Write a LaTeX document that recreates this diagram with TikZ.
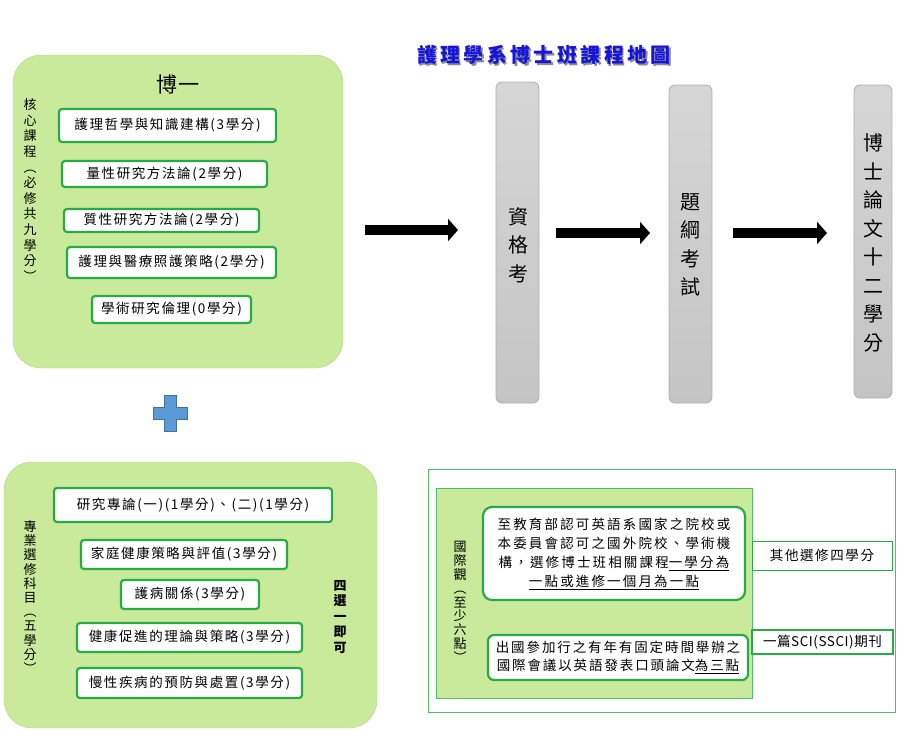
\documentclass[tikz,border=0pt]{standalone}
\usepackage{fontspec}
\setmainfont{Noto Sans CJK TC}
\usetikzlibrary{arrows.meta}
\definecolor{panelgreen}{RGB}{201,234,154}
\definecolor{boxgreen}{RGB}{40,170,70}
\definecolor{outergreen}{RGB}{80,190,110}
\definecolor{titleblue}{RGB}{20,20,220}
\definecolor{bartop}{RGB}{214,214,214}
\definecolor{barbot}{RGB}{196,196,196}
\definecolor{barline}{RGB}{175,175,175}
\definecolor{plusfill}{RGB}{91,155,213}
\definecolor{plusline}{RGB}{65,113,156}
\tikzset{
  panel/.style={fill=panelgreen, draw=panelgreen!90!black, line width=0.4pt, rounded corners=28pt, inner sep=0pt},
  tbox/.style={draw=boxgreen, line width=2.2pt, fill=white, rounded corners=3pt, inner sep=0pt,
    font=\fontsize{13.5}{16}\selectfont\addfontfeature{LetterSpace=12}},
  bar/.style={draw=barline, line width=0.8pt, top color=bartop, bottom color=barbot, rounded corners=6pt, inner sep=0pt},
  bartext/.style={align=center, inner sep=0pt, font=\fontsize{20}{28.5}\selectfont},
  vlabel/.style={align=center, inner sep=0pt, font=\fontsize{13}{15.5}\selectfont},
  blockarrow/.style={line width=10pt, -{Triangle[length=10pt,width=22pt]}},
}
\begin{document}
\begin{tikzpicture}[x=1pt,y=-1pt]
\useasboundingbox (0,0) rectangle (900,731);
% title
\node[inner sep=0pt, text=black!45, font=\fontsize{20}{24}\selectfont\bfseries\addfontfeature{LetterSpace=17}] (titleshadow) at (545.5,56.5) {護理學系博士班課程地圖};
\node[inner sep=0pt, text=titleblue, font=\fontsize{20}{24}\selectfont\bfseries\addfontfeature{LetterSpace=17}] (title) at (544,55) {護理學系博士班課程地圖};

% core panel
\node[panel, minimum width=330pt, minimum height=313pt] (core) at (178,211.5) {};
\node[inner sep=0pt, font=\fontsize{21}{24}\selectfont\addfontfeature{LetterSpace=5}] (bo1) at (178,85) {博一};
\node[vlabel, font=\fontsize{13}{15.6}\selectfont] (corelab) at (30,190) {核\\心\\課\\程\\︵\\必\\修\\共\\九\\學\\分\\︶};
\node[tbox, minimum width=217pt, minimum height=33pt] (c1) at (167.5,125.5) {護理哲學與知識建構(3學分)};
\node[tbox, minimum width=205pt, minimum height=26pt] (c2) at (164.5,174) {量性研究方法論(2學分)};
\node[tbox, minimum width=195pt, minimum height=23pt] (c3) at (161.5,220.5) {質性研究方法論(2學分)};
\node[tbox, minimum width=209pt, minimum height=31pt] (c4) at (171.5,262.5) {護理與醫療照護策略(2學分)};
\node[tbox, minimum width=159pt, minimum height=27pt] (c5) at (171.5,309.5) {學術研究倫理(0學分)};

% plus sign
\draw[fill=plusfill, draw=plusline, line width=0.8pt]
  (164,395) -- (176,395) -- (176,407) -- (187,407) -- (187,419) -- (176,419) -- (176,431)
  -- (164,431) -- (164,419) -- (153,419) -- (153,407) -- (164,407) -- cycle;

% bars
\node[bar, minimum width=43pt, minimum height=321pt] (bar1) at (517.5,242.5) {};
\node[bartext] (bar1t) at (518,245) {資\\格\\考};
\node[bar, minimum width=43pt, minimum height=318pt] (bar2) at (690.5,244) {};
\node[bartext] (bar2t) at (690.5,245) {題\\綱\\考\\試};
\node[bar, minimum width=38pt, minimum height=313pt] (bar3) at (873,241.5) {};
\node[bartext] (bar3t) at (873,243) {博\\士\\論\\文\\十\\二\\學\\分};

% block arrows
\coordinate (a1s) at (365,230);
\coordinate (a1e) at (458,230);
\coordinate (a2s) at (556,233);
\coordinate (a2e) at (650,233);
\coordinate (a3s) at (733,233);
\coordinate (a3e) at (827,233);
\draw[blockarrow] (a1s) -- (a1e);
\draw[blockarrow] (a2s) -- (a2e);
\draw[blockarrow] (a3s) -- (a3e);

% elective panel
\node[panel, minimum width=373pt, minimum height=266pt] (elec) at (190.5,595) {};
\node[vlabel, font=\fontsize{13}{14.2}\selectfont] (eleclab) at (30,597) {專\\業\\選\\修\\科\\目\\︵\\五\\學\\分\\︶};
\node[vlabel, font=\fontsize{13}{15.5}\selectfont\bfseries] (choose) at (340,617) {四\\選\\一\\即\\可};
\node[tbox, minimum width=278pt, minimum height=34pt] (e1) at (193,505) {研究專論(一)(1學分)、(二)(1學分)};
\node[tbox, minimum width=206pt, minimum height=29pt] (e2) at (184,554.5) {家庭健康策略與評值(3學分)};
\node[tbox, minimum width=138pt, minimum height=29pt] (e3) at (190,594.5) {護病關係(3學分)};
\node[tbox, minimum width=225pt, minimum height=29pt] (e4) at (189.5,637.5) {健康促進的理論與策略(3學分)};
\node[tbox, minimum width=225pt, minimum height=30pt] (e5) at (189.5,683) {慢性疾病的預防與處置(3學分)};

% international section
\node[draw=outergreen, line width=1pt, minimum width=467pt, minimum height=243pt, inner sep=0pt] (outer) at (661.5,590.5) {};
\node[draw=outergreen, fill=panelgreen, line width=1pt, minimum width=316pt, minimum height=210pt, inner sep=0pt] (inner) at (594,593) {};
\node[vlabel, font=\fontsize{13}{13.8}\selectfont] (intlab) at (460,602) {國\\際\\觀\\︵\\至\\少\\六\\點\\︶};
\node[tbox, rounded corners=9pt, minimum width=262pt, minimum height=93pt, align=center,
  font=\fontsize{13.5}{19}\selectfont\addfontfeature{LetterSpace=16}] (A) at (614,553.5)
  {至教育部認可英語系國家之院校或\\本委員會認可之國外院校、學術機\\構，選修博士班相關課程\underline{一學分為}\\\underline{一點或進修一個月為一點}};
\node[tbox, rounded corners=6pt, minimum width=260pt, minimum height=45pt, align=center,
  font=\fontsize{13.5}{18}\selectfont\addfontfeature{LetterSpace=14}] (B) at (618,657.5)
  {出國參加行之有年有固定時間舉辦之\\國際會議以英語發表口頭論文\underline{為三點}};
\node[draw=boxgreen, line width=1pt, fill=white, minimum width=140pt, minimum height=29pt, inner sep=0pt,
  font=\fontsize{13.5}{16}\selectfont\addfontfeature{LetterSpace=12}] (R1) at (822,555.5) {其他選修四學分};
\node[draw=boxgreen, line width=2pt, fill=white, minimum width=141pt, minimum height=24pt, inner sep=0pt,
  font=\fontsize{13.5}{16}\selectfont\addfontfeature{LetterSpace=4}] (R2) at (822.5,642) {一篇SCI(SSCI)期刊};
\end{tikzpicture}
\end{document}
